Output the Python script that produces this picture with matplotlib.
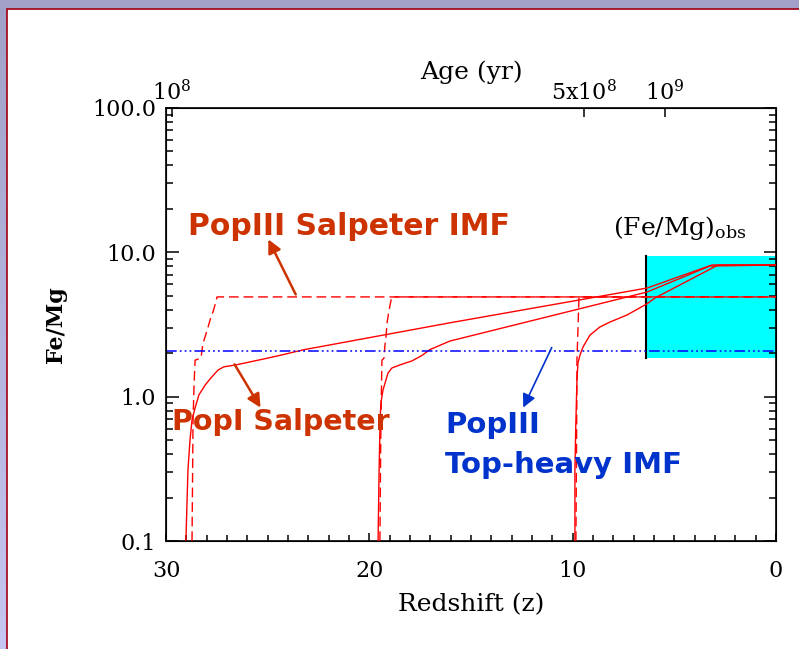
import numpy as np
import matplotlib
matplotlib.use("Agg")
import matplotlib.pyplot as plt
from matplotlib.patches import Rectangle
from matplotlib.ticker import FixedLocator, NullFormatter

plt.rcParams['font.family'] = ['DejaVu Serif']
plt.rcParams['mathtext.fontset'] = 'dejavuserif'

# PopI Salpeter (solid), one track per formation redshift
popI_z1 = [29.02, 28.97, 28.92, 28.82, 28.72, 28.57, 28.38, 28.08, 27.79, 27.44, 27.15, 26.56,
           25.23, 24.34, 23.26, 16.03, 6.34, 3.15, 0.0]
popI_v1 = [0.1, 0.178, 0.31, 0.50, 0.69, 0.835, 1.03, 1.20, 1.35, 1.53, 1.61, 1.66,
           1.82, 1.94, 2.11, 3.25, 5.66, 8.17, 8.17]
popI_z2 = [19.57, 19.52, 19.47, 19.43, 19.33, 19.08, 18.89, 18.49, 17.90, 17.41, 17.02, 16.03,
           6.34, 3.25, 0.0]
popI_v2 = [0.1, 0.31, 0.69, 0.904, 1.11, 1.46, 1.58, 1.66, 1.77, 1.93, 2.12, 2.43,
           5.31, 8.04, 8.17]
popI_z3 = [9.89, 9.89, 9.84, 9.79, 9.74, 9.64, 9.49, 9.15, 8.66, 8.16, 7.33, 6.34, 5.95, 2.85, 0.0]
popI_v3 = [0.1, 0.31, 0.69, 1.30, 1.71, 1.94, 2.21, 2.67, 3.04, 3.29, 3.68, 4.40, 4.83, 8.17, 8.17]

# PopIII Salpeter IMF (dashed)
pop3s_z1 = [28.72, 28.67, 28.62, 28.57, 28.28, 28.18, 28.08, 27.93, 27.79, 27.69, 27.59, 27.49, 0.0]
pop3s_v1 = [0.1, 0.69, 1.20, 1.79, 1.85, 2.35, 2.59, 3.04, 3.56, 3.86, 4.32, 4.91, 4.91]
pop3s_z2 = [19.48, 19.43, 19.38, 19.28, 19.23, 19.18, 19.13, 19.03, 18.93, 18.89, 0.0]
pop3s_v2 = [0.1, 0.69, 1.79, 1.85, 2.28, 2.59, 3.24, 3.98, 4.68, 4.91, 4.91]
pop3s_z3 = [9.84, 9.79, 9.79, 9.74, 9.69, 0.0]
pop3s_v3 = [0.1, 1.30, 1.79, 2.90, 4.91, 4.91]

# PopIII top-heavy IMF (constant)
pop3th_z = [30.0, 0.0]
pop3th_v = [2.07, 2.07]

# observed (Fe/Mg) box
obs_z = [6.39, 0.0]
obs_v = [1.85, 9.43]

# top axis: age of the universe
age_z = [29.7, 9.44, 5.46]
age_labels = [r'10$^8$', r'5x10$^8$', r'10$^9$']

y_ticks = [0.1, 1.0, 10.0, 100.0]
y_labels = ['0.1', '1.0', '10.0', '100.0']

orange = '#CC3300'
blue = '#0033CC'

fig = plt.figure(figsize=(7.99, 6.49), dpi=100)

# lavender background + white slide panel
bg = fig.add_axes([0, 0, 1, 1], zorder=-10)
grad = np.linspace(0, 1, 256)[:, None]
top_c = np.array([160, 160, 200]) / 255
bot_c = np.array([198, 198, 242]) / 255
img = top_c[None, None, :] * (1 - grad[:, :, None]) + bot_c[None, None, :] * grad[:, :, None]
bg.imshow(img, aspect='auto', extent=[0, 1, 0, 1])
bg.add_patch(Rectangle((7 / 799, -0.1), 1.2, 1.1 - 9 / 649, facecolor='white',
                       edgecolor='#A00010', linewidth=1.2))
bg.set_xlim(0, 1)
bg.set_ylim(0, 1)
bg.axis('off')

ax = fig.add_axes([166 / 799, 1 - 541 / 649, 610 / 799, 433 / 649])
ax.set_facecolor('none')
ax.set_yscale('log')
ax.set_xlim(30, 0)
ax.set_ylim(0.1, 100)

ax.add_patch(Rectangle((obs_z[0], obs_v[0]), obs_z[1] - obs_z[0], obs_v[1] - obs_v[0],
                       facecolor='#00FFFF', edgecolor='none', zorder=1))
ax.plot([obs_z[0], obs_z[0]], obs_v, color='black', lw=1.5, zorder=2)

for zz, vv in [(popI_z1, popI_v1), (popI_z2, popI_v2), (popI_z3, popI_v3)]:
    ax.plot(zz, vv, color='red', lw=1.0, zorder=3)
for zz, vv in [(pop3s_z1, pop3s_v1), (pop3s_z2, pop3s_v2), (pop3s_z3, pop3s_v3)]:
    ax.plot(zz, vv, color='red', lw=1.0, dashes=(7, 3.5), zorder=3)
ax.plot(pop3th_z, pop3th_v, color='blue', lw=1.1, dashes=(7, 2, 1.2, 2, 1.2, 2, 1.2, 2), zorder=3)

# axes style
for s in ax.spines.values():
    s.set_linewidth(1.2)
ax.xaxis.set_major_locator(FixedLocator([30, 20, 10, 0]))
ax.xaxis.set_minor_locator(FixedLocator(np.arange(0, 31, 1)))
ax.set_yticks(y_ticks)
ax.set_yticklabels(y_labels)
ax.yaxis.set_minor_formatter(NullFormatter())
ax.tick_params(axis='x', which='major', direction='in', length=6, width=1.1, top=False,
               labelsize=16, pad=14)
ax.tick_params(axis='x', which='minor', direction='in', length=4.5, width=1.1, top=False)
ax.tick_params(axis='y', which='major', direction='in', length=9, width=1.1, right=True,
               labelsize=16, pad=7)
ax.tick_params(axis='y', which='minor', direction='in', length=5, width=1.1, right=True)
ax.set_xlabel('Redshift (z)', fontsize=18, labelpad=8)
ax.set_ylabel('Fe/Mg', fontsize=16, fontweight='bold', labelpad=18)

ax2 = ax.twiny()
ax2.set_xlim(30, 0)
ax2.set_xticks(age_z)
ax2.set_xticklabels(age_labels)
ax2.xaxis.set_minor_locator(FixedLocator([]))
ax2.tick_params(axis='x', direction='in', length=6.5, width=1.1, labelsize=16, pad=2)
ax2.set_xlabel('Age (yr)', fontsize=18, labelpad=1)

# annotations
arrow_style = '-|>,head_length=0.8,head_width=0.4'
ax.text(28.92, 15.2, 'PopIII Salpeter IMF', color=orange, fontsize=21.5, fontweight='bold',
        family='DejaVu Sans', ha='left', va='center', zorder=5)
ax.annotate('', xy=(25.03, 12.8), xytext=(23.56, 4.91),
            arrowprops=dict(arrowstyle=arrow_style, color=orange, lw=1.8))
ax.text(29.70, 0.668, 'PopI Salpeter', color=orange, fontsize=20.5, fontweight='bold',
        family='DejaVu Sans', ha='left', va='center', zorder=5)
ax.annotate('', xy=(25.28, 0.808), xytext=(26.70, 1.74),
            arrowprops=dict(arrowstyle=arrow_style, color=orange, lw=1.8))
ax.text(16.28, 0.80, 'PopIII\nTop-heavy IMF', color=blue, fontsize=21, fontweight='bold',
        family='DejaVu Sans', ha='left', va='top', linespacing=1.55, zorder=5)
ax.annotate('', xy=(12.49, 0.808), xytext=(10.97, 2.28),
            arrowprops=dict(arrowstyle=arrow_style, color=blue, lw=1.2))
ax.text(8.02, 14.8, r'(Fe/Mg)$_{\mathrm{obs}}$', color='black', fontsize=18,
        ha='left', va='center', zorder=5)

fig.savefig('out.png', dpi=100)
